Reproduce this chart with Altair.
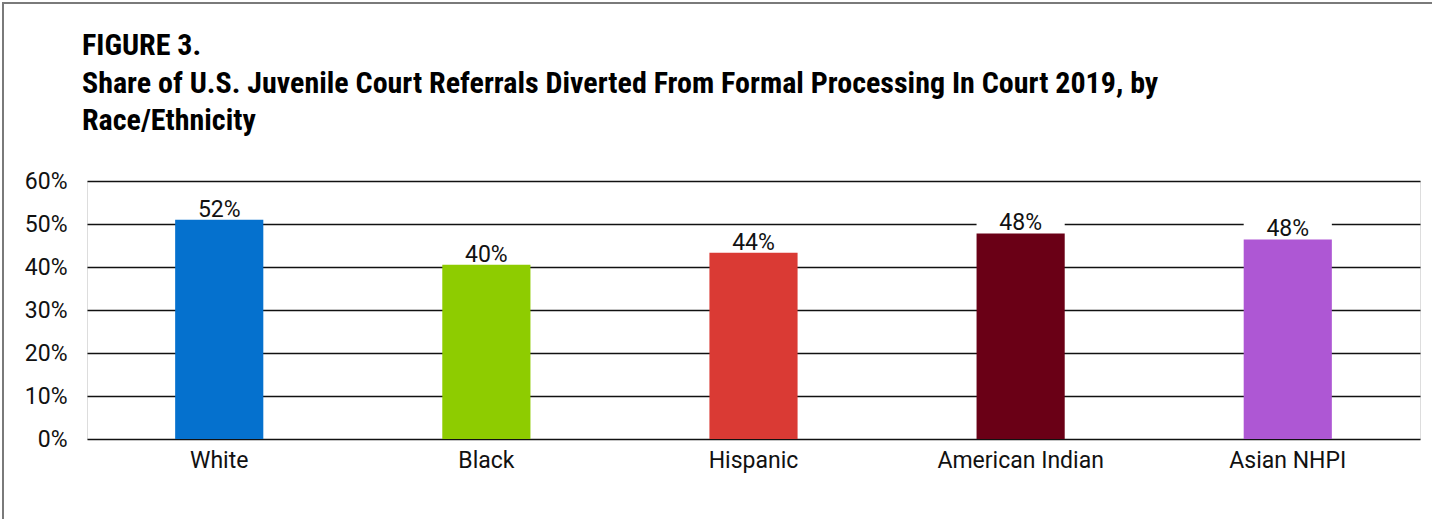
import altair as alt
import pandas as pd

groups = ["White", "Black", "Hispanic", "American Indian", "Asian NHPI"]
shares = [51.0, 40.5, 43.3, 47.8, 46.4]
labels = ["52%", "40%", "44%", "48%", "48%"]
colors = ["#0571CE", "#8ECC00", "#DA3A34", "#6A0016", "#AE57D4"]
y_ticks = [0, 10, 20, 30, 40, 50, 60]
title_lines = [
    "FIGURE 3.",
    "Share of U.S. Juvenile Court Referrals Diverted From Formal Processing In Court 2019, by",
    "Race/Ethnicity",
]

df = pd.DataFrame({"group": groups, "share": shares, "label": labels})
title_df = pd.DataFrame({"t": ["\n".join(title_lines)]})

FONT = "Roboto"
FS = 23
x_enc = alt.X(
    "group:N",
    sort=groups,
    scale=alt.Scale(paddingInner=0.67, paddingOuter=0.33),
    axis=alt.Axis(
        title=None, domain=False, ticks=False, labelAngle=0,
        labelAlign="center", labelBaseline="top",
        labelFont=FONT, labelFontSize=FS, labelColor="#111", labelPadding=10,
    ),
)
y_scale = alt.Scale(domain=[0, 60], nice=False)

base = alt.Chart(df)

bars = base.mark_bar().encode(
    x=x_enc,
    y=alt.Y(
        "share:Q",
        scale=y_scale,
        axis=alt.Axis(
            title=None, values=y_ticks, labelExpr="datum.value + '%'",
            domain=False, ticks=False, grid=True, gridColor="#111",
            gridWidth=1.4, labelFont=FONT, labelFontSize=FS,
            labelColor="#111", labelPadding=20,
        ),
    ),
    color=alt.Color("group:N", scale=alt.Scale(domain=groups, range=colors), legend=None),
)

label_bg = base.transform_calculate(top="datum.share + 4.2").mark_bar(color="white").encode(
    x=alt.X("group:N", sort=groups),
    y=alt.Y("share:Q", scale=y_scale),
    y2="top:Q",
)

text = base.mark_text(
    baseline="alphabetic", dy=-3, font=FONT, fontSize=FS, color="#111"
).encode(
    x=alt.X("group:N", sort=groups),
    y=alt.Y("share:Q", scale=y_scale),
    text="label:N",
)

title = alt.Chart(title_df).mark_text(
    align="left", baseline="alphabetic", lineBreak="\n", lineHeight=37.5,
    font="Roboto Condensed, DejaVu Sans Condensed, Liberation Sans Narrow, Roboto",
    fontSize=30, fontWeight="bold", color="#000",
).encode(x=alt.value(-5), y=alt.value(-126), text="t:N")

frame_left = alt.Chart(df).mark_rule(color="#7a7a7a", strokeWidth=2).encode(
    x=alt.value(-84), y=alt.value(-178), y2=alt.value(338)
)
frame_top = alt.Chart(df).mark_rule(color="#7a7a7a", strokeWidth=2).encode(
    x=alt.value(-85), x2=alt.value(1345), y=alt.value(-178)
)

chart = alt.layer(label_bg, bars, text, title, frame_left, frame_top).properties(
    width=1333,
    height=258,
    autosize=alt.AutoSizeParams(type="none"),
    padding={"left": 87, "top": 181, "right": 12, "bottom": 80},
).configure_view(stroke="transparent", strokeWidth=0).configure(background="white")

chart.save("out.html", embed_options={"renderer": "svg", "actions": False})
